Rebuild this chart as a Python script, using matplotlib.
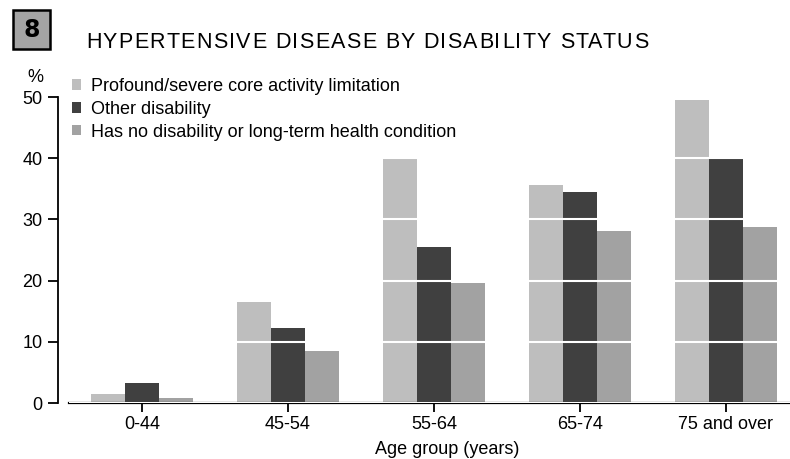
import numpy as np
import matplotlib.pyplot as plt
from matplotlib.patches import Rectangle

plt.rcParams['font.family'] = ['Liberation Sans', 'DejaVu Sans']

ages = ['0-44', '45-54', '55-64', '65-74', '75 and over']
series = ['Profound/severe core activity limitation',
          'Other disability',
          'Has no disability or long-term health condition']
profound = [1.5, 16.5, 40.1, 35.6, 49.5]
other = [3.3, 12.3, 25.5, 34.5, 39.9]
no_disab = [0.8, 8.5, 19.6, 28.1, 28.8]
colors = ['#bebebe', '#404040', '#a2a2a2']
title = 'HYPERTENSIVE DISEASE BY DISABILITY STATUS'

W, H = 790, 459
fig = plt.figure(figsize=(W / 100, H / 100), dpi=100)
ax = fig.add_axes([69 / W, 1 - 403 / H, 1 - 69 / W, 306 / H])

x = np.arange(len(ages))
w = 0.233
for i, (vals, lab, c) in enumerate(zip([profound, other, no_disab], series, colors)):
    ax.bar(x + (i - 1) * w, vals, w, color=c, label=lab, zorder=1)

ax.set_ylim(0, 50)
ax.set_xlim(-0.5, 4.44)
ax.set_yticks([0, 10, 20, 30, 40, 50])
ax.set_xticks(x)
ax.set_xticklabels(ages)
ax.tick_params(axis='both', labelsize=13, width=1.3, color='black')
ax.tick_params(axis='y', length=7, pad=4)
ax.tick_params(axis='x', length=6.5, pad=3)

# white rules cut through the bars
ax.set_axisbelow(False)
ax.yaxis.grid(True, color='white', linewidth=1.5)

for s in ['top', 'right']:
    ax.spines[s].set_visible(False)
ax.spines['left'].set_position(('outward', 8))
ax.spines['left'].set_linewidth(1.3)
ax.spines['bottom'].set_linewidth(1.6)

fig.text(447 / W, 1 - 449 / H, 'Age group (years)', fontsize=13,
         ha='center', va='center')
fig.text(35 / W, 1 - 77 / H, '%', fontsize=13, ha='center', va='center')

handles, labels = ax.get_legend_handles_labels()
fig.legend(handles, labels, loc='upper left', bbox_to_anchor=(72 / W, 1 - 78 / H),
           bbox_transform=fig.transFigure, frameon=False, fontsize=13,
           handlelength=0.5, handleheight=0.5, handletextpad=0.55,
           labelspacing=0.32, borderaxespad=0, borderpad=0)

# boxed figure number
fig.patches.append(Rectangle((13 / W, 1 - 49 / H), 37 / W, 39 / H,
                             transform=fig.transFigure, facecolor='#a4a4a4',
                             edgecolor='black', linewidth=1.8))
fig.text(31.5 / W, 1 - 30 / H, '8', fontsize=17, fontweight='bold',
         ha='center', va='center', family='DejaVu Sans')

# letter-spaced heading, placed one glyph at a time
renderer = fig.canvas.get_renderer()
tsize = 15.5
probe = fig.text(0, 0, title, fontsize=tsize, family='Liberation Sans')
prop = probe.get_fontproperties()
probe.remove()


def text_width(s):
    return renderer.get_text_width_height_descent(s, prop, ismath=False)[0]


x0, x1 = 86, 648
track = (x1 - x0 - text_width(title)) / (len(title) - 1)
for k, ch in enumerate(title):
    if ch == ' ':
        continue
    left = x0 + text_width(title[:k + 1]) - text_width(ch) + k * track
    fig.text(left / W, 1 - 42 / H, ch, fontproperties=prop,
             ha='left', va='center')

fig.savefig('out.png', dpi=100)
